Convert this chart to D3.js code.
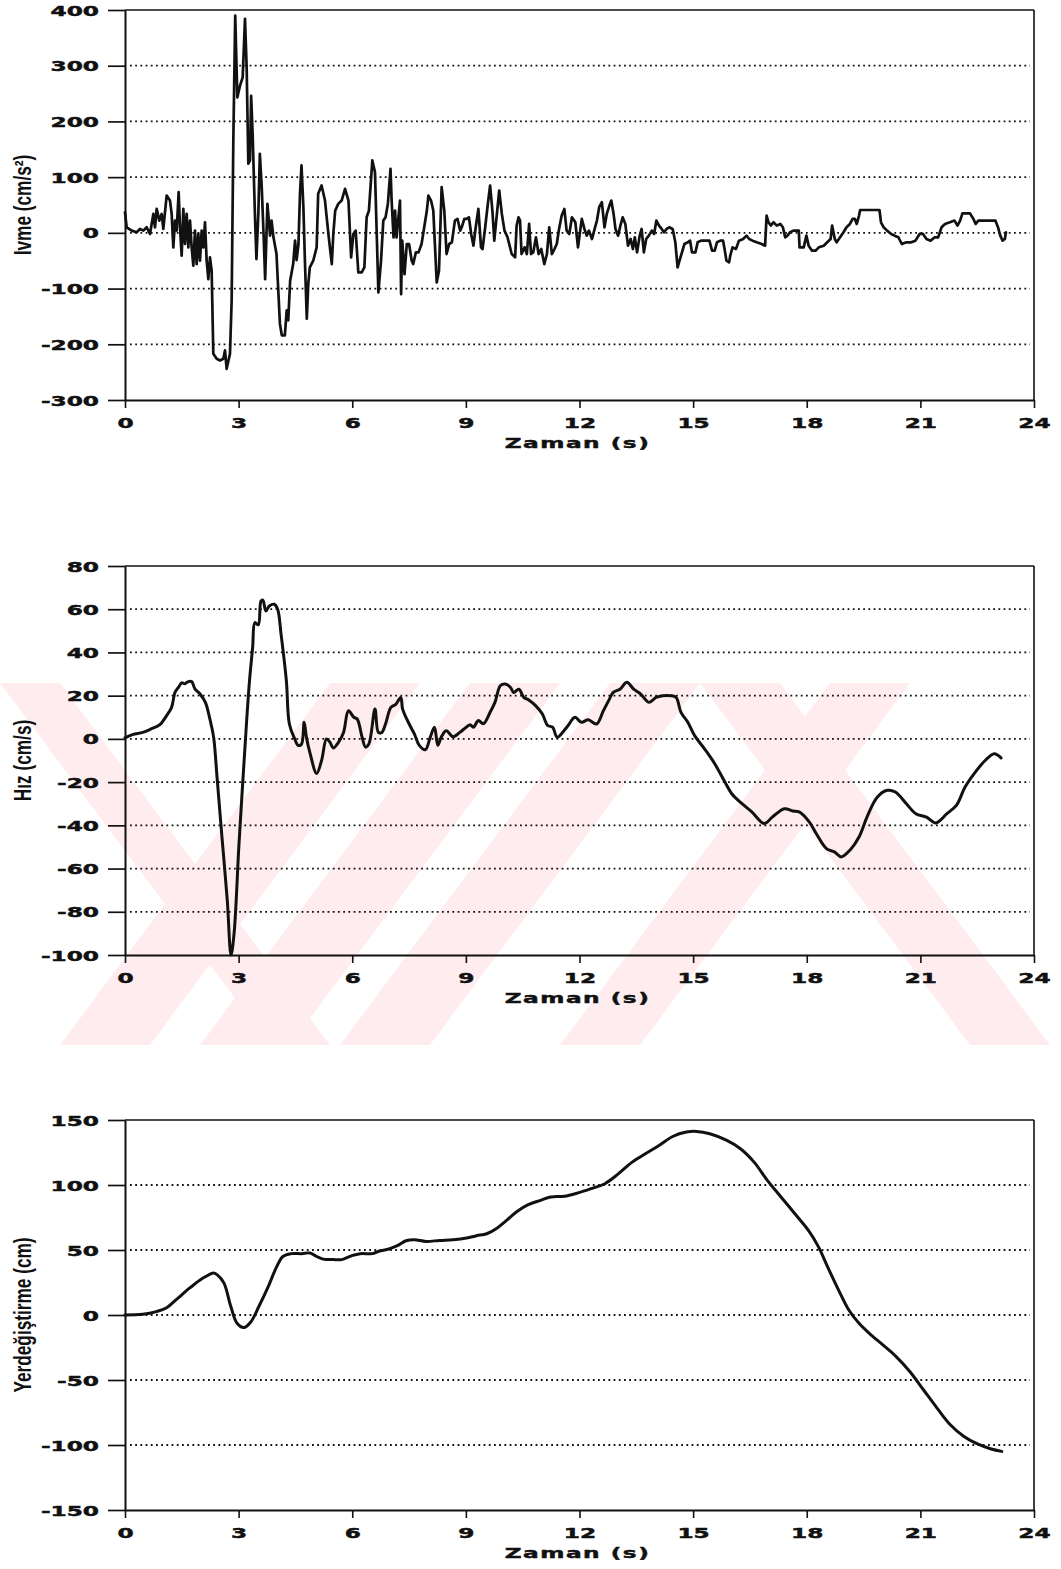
<!DOCTYPE html>
<html>
<head>
<meta charset="utf-8">
<script src="https://cdn.jsdelivr.net/npm/d3@7"></script>
<style>
  body { margin: 0; background: #fff; }
  svg { display: block; }
</style>
</head>
<body>
<svg id="fig" width="1061" height="1569"></svg>
<script>
// ---- tick values ----
const timeTicks  = [0, 3, 6, 9, 12, 15, 18, 21, 24];
const accelTicks = [-300, -200, -100, 0, 100, 200, 300, 400];
const velTicks   = [-100, -80, -60, -40, -20, 0, 20, 40, 60, 80];
const dispTicks  = [-150, -100, -50, 0, 50, 100, 150];

// ---- acceleration record (cm/s²) ----
const accelTime = [
  0, 0.044, 0.176, 0.308, 0.396, 0.484, 0.572, 0.66, 0.748, 0.792, 0.836, 0.906, 0.968, 1.012, 1.1, 1.188,
  1.232, 1.276, 1.32, 1.364, 1.417, 1.452, 1.496, 1.54, 1.584, 1.628, 1.672, 1.716, 1.76, 1.804, 1.848, 1.892,
  1.936, 1.98, 2.024, 2.068, 2.112, 2.156, 2.2, 2.244, 2.288, 2.332, 2.42, 2.508, 2.596, 2.64, 2.684, 2.772,
  2.816, 2.86, 2.91, 2.966, 3.036, 3.107, 3.168, 3.212, 3.256, 3.3, 3.33, 3.37, 3.43, 3.47, 3.52, 3.56, 3.61,
  3.66, 3.7, 3.76, 3.83, 3.87, 3.92, 4.0, 4.09, 4.14, 4.22, 4.27, 4.31, 4.36, 4.44, 4.49, 4.53, 4.58, 4.62,
  4.66, 4.71, 4.75, 4.8, 4.84, 4.88, 4.97, 5.06, 5.1, 5.19, 5.28, 5.37, 5.46, 5.5, 5.55, 5.63, 5.72,
  5.81, 5.9, 5.97, 6.03, 6.09, 6.16, 6.25, 6.32, 6.38, 6.44, 6.53, 6.6, 6.69, 6.76, 6.82, 6.88, 6.94, 7.01,
  7.04, 7.09, 7.13, 7.17, 7.22, 7.26, 7.29, 7.32, 7.38, 7.44, 7.5, 7.57, 7.61, 7.68, 7.75, 7.83, 7.9, 7.97,
  8.01, 8.08, 8.14, 8.23, 8.29, 8.36, 8.43, 8.49, 8.56, 8.63, 8.71, 8.78, 8.85, 8.89, 8.96, 9.02, 9.08, 9.14,
  9.2, 9.26, 9.33, 9.4, 9.44, 9.51, 9.58, 9.64, 9.7, 9.75, 9.81, 9.88, 9.95, 10.02, 10.1, 10.21, 10.3, 10.34,
  10.39, 10.43, 10.47, 10.55, 10.61, 10.67, 10.72, 10.78, 10.85, 10.92, 10.99, 11.07, 11.14, 11.2, 11.27,
  11.34, 11.4, 11.46, 11.53, 11.6, 11.66, 11.73, 11.8, 11.89, 11.96,
  12.06, 12.13, 12.19, 12.25, 12.33, 12.4, 12.46, 12.52, 12.59, 12.66, 12.72, 12.79, 12.84, 12.9, 12.95,
  13.02, 13.08, 13.14, 13.21, 13.28, 13.35, 13.41, 13.46, 13.52, 13.59, 13.64, 13.7, 13.76, 13.83, 13.91,
  13.97, 14.03, 14.1, 14.17, 14.23, 14.3, 14.37, 14.46, 14.53, 14.59, 14.68, 14.77, 14.86, 14.92, 14.97,
  15.06, 15.12, 15.21, 15.34, 15.43, 15.5, 15.57, 15.63, 15.72, 15.79, 15.83, 15.88, 15.95, 15.98, 16.04,
  16.13, 16.21, 16.32, 16.41, 16.48, 16.57, 16.68, 16.81, 16.9, 16.94, 16.99, 17.05, 17.12, 17.21, 17.3,
  17.37, 17.43, 17.49, 17.56, 17.65, 17.79, 17.81, 17.92, 17.99, 18.05, 18.14, 18.23, 18.32, 18.45, 18.54,
  18.63, 18.67, 18.74, 18.79, 18.88, 18.97, 19.05, 19.14, 19.21, 19.27, 19.32, 19.38, 19.41, 19.61, 19.83,
  19.92, 19.96, 20.03, 20.12, 20.23, 20.32, 20.42, 20.51, 20.63, 20.76, 20.87, 20.98, 21.07, 21.16, 21.27,
  21.38, 21.47, 21.56, 21.65, 21.78, 21.9, 21.98, 22.05, 22.11, 22.31, 22.4, 22.46, 22.53, 22.71, 22.98,
  23.05, 23.11, 23.17, 23.23, 23.26
];
const accel = [
  37, 10, 4, 1, 7, 4, 10, -2, 34, 10, 43, 22, 34, 7, 67, 58,
  34, -26, 22, 4, 73, 10, -41, 43, -20, 34, -26, 22, -26, -59, 4, -56,
  -2, -50, 4, -26, 19, -50, -83, -44, -68, -217, -226, -229, -226, -211, -244, -217,
  -121, 166, 390, 243, 264, 279, 384, 297, 124, 130, 246, 178, 34, -47, 34, 142, 82,
  -5, -83, 52, -5, 22, -8, -38, -163, -184, -184, -139, -157, -86, -56, -14, -49, -20, 70,
  121, 46, -50, -154, -91, -62, -50, -26, 70, 85, 58, -2, -56, -2, 40, 52, 58,
  79, 58, -44, -2, 4, -71, -71, -62, 28, 40, 130, 109, -107, -50, 22, 28, 52, 115,
  58, -8, 40, -8, 28, 58, -110, -14, -74, -20, -20, -50, -56, -35, -35, -20, 10, 40,
  67, 58, 40, -89, -68, 82, 40, -38, -20, -17, 22, 25, 4, 10, 25, 25, 28, -2,
  -23, 10, 43, -26, -29, 10, 52, 85, 40, -14, 28, 76, 34, 4, -8, -38, -44, 13,
  28, 22, -38, -26, -38, 16, -38, -35, -8, -38, -29, -56, -38, 10, -38,
  -29, -20, 7, 31, 43, 4, -2, 28, 19, -26,
  25, 7, -5, 4, -11, 7, 22, 46, 55, 10, 34, 49, 58, 34, 7,
  -5, 13, 28, 16, -23, -11, -29, -8, -35, -5, 7, -35, -11, -5, 4,
  -2, 22, 13, 7, 1, 7, 10, 7, -17, -62, -41, -20, -17, -14, -35,
  -35, -17, -14, -14, -14, -32, -32, -17, -14, -14, -29, -50, -53, -41, -26,
  -29, -14, -11, -5, -11, -14, -17, -20, -23, 31, 19, 13, 19, 13, 16,
  10, -8, -5, 1, 4, 4, -26, -26, -5, -23, -32, -32, -26, -23, -17,
  -11, 13, -11, -17, -8, 1, 10, 16, 25, 25, 16, 31, 41, 41, 41,
  41, 19, 10, 4, -2, -5, -8, -20, -17, -17, -14, -2, -2, -11, -14,
  -8, -8, 10, 16, 19, 22, 13, 22, 35, 35, 25, 16, 22, 22, 22,
  10, -5, -14, -11, 1
];

// ---- velocity (cm/s) ----
const velTime = [
  0, 0.2, 0.47, 0.69, 0.92, 1.1, 1.23, 1.32, 1.41, 1.5, 1.58, 1.67, 1.76, 1.85, 1.98, 2.12, 2.25, 2.34,
  2.43, 2.56, 2.7, 2.8, 2.88, 3.01, 3.14, 3.28, 3.37, 3.43, 3.52, 3.59, 3.64, 3.72, 3.81, 3.94, 4.03, 4.12,
  4.26, 4.34, 4.48, 4.57, 4.66, 4.73, 4.79, 4.88, 5.06, 5.19, 5.32, 5.41, 5.5, 5.64, 5.77, 5.9, 6.04, 6.13,
  6.26, 6.35, 6.44, 6.6, 6.69, 6.78, 6.88, 7.02, 7.15, 7.28, 7.33, 7.5, 7.64, 7.77, 7.93, 8.06, 8.17, 8.26,
  8.35, 8.48, 8.66, 8.84, 8.98, 9.11, 9.2, 9.33, 9.46, 9.64, 9.77, 9.91, 10.04, 10.18, 10.26, 10.4, 10.53,
  10.66, 10.84, 11.02, 11.16, 11.29, 11.41, 11.59, 11.7, 11.88, 12.05, 12.23, 12.45, 12.63, 12.77, 12.89,
  13.07, 13.25, 13.43, 13.61, 13.84, 14.02, 14.2, 14.41, 14.55, 14.68, 14.86, 15.04, 15.3, 15.57, 15.84,
  16.02, 16.29, 16.55, 16.88, 17.09, 17.41, 17.63, 17.8, 18.07, 18.25, 18.52, 18.73, 18.91, 19.14, 19.38,
  19.59, 19.86, 20.13, 20.34, 20.63, 20.88, 21.16, 21.41, 21.7, 21.95, 22.18, 22.45, 22.71, 22.95, 23.13
];
const vel = [
  0.5, 2, 3, 4.6, 6.6, 10.8, 14.6, 21.5, 23.8, 26, 25.5, 26.5, 26.5, 23, 20.8, 17, 8.5, 0.8,
  -17.7, -45.4, -74.6, -100, -90, -48.5, -11.5, 25.4, 42.3, 53.8, 52.8, 63.8, 64.2, 59.2, 61.5, 62.3, 60, 48.5,
  27, 6.9, 0, -3, -2.5, 7.7, 0.8, -6.2, -16, -10, 0, -1.5, -4.2, -1.5, 3, 13, 10, 9.2,
  0.8, -3.8, -2.3, 13.8, 3, 3, 7, 14.6, 16, 19.2, 13.8, 7, 2.3, -3, -5, 0.8, 5.4, -3,
  0.8, 3.8, 1, 3, 5, 6.6, 5.4, 8.5, 7, 12.3, 17, 24.6, 25.4, 23.8, 21.5, 23, 19.2,
  18, 15.4, 11.5, 6.2, 5.4, 0.8, 3.8, 6.2, 10, 7.7, 8.8, 6.9, 13, 17.7, 21.5,
  23, 26.2, 23, 20.8, 16.9, 19.2, 20, 20, 19.2, 12.3, 7.7, 1.5, -4.6, -11.5, -20,
  -25.4, -30, -33.8, -39.2, -36.2, -32.3, -33.4, -33.8, -38.5, -43.8, -50.8, -52.3, -54.6, -51.5, -45.4,
  -36.2, -27, -23.8, -24.6, -30, -34.6, -36.2, -38.9, -34.6, -30.8, -22.3, -15.4, -10, -6.9, -8.8
];

// ---- displacement (cm) ----
const dispTime = [
  0, 0.47, 0.83, 1.1, 1.36, 1.72, 2.07, 2.34, 2.43, 2.61, 2.79, 2.96, 3.14, 3.32, 3.54, 3.77, 3.99, 4.17,
  4.39, 4.66, 4.88, 5.06, 5.23, 5.5, 5.72, 5.99, 6.21, 6.53, 6.7, 6.97, 7.19, 7.42, 7.64, 7.95, 8.31, 8.66,
  9.02, 9.28, 9.55, 9.82, 10.09, 10.35, 10.62, 10.97, 11.24, 11.6, 11.96, 12.31, 12.67, 13.03, 13.39, 13.74,
  14.1, 14.46, 14.82, 15.09, 15.44, 15.89, 16.25, 16.61, 16.96, 17.32, 17.72, 18.04, 18.31, 18.57, 18.84,
  19.11, 19.38, 19.65, 20.01, 20.36, 20.72, 21.08, 21.44, 21.79, 22.15, 22.51, 22.87, 23.15
];
const disp = [
  0, 0.5, 2.6, 5.6, 12, 21, 28.6, 32.4, 31, 24.7, 6.9, -6.4, -9.7, -5.4, 6.9, 21, 36.2, 45,
  47.2, 47.2, 47.7, 45, 43, 42.6, 42.6, 45.7, 47.2, 47.2, 49, 50.8, 53.3, 57.1, 57.9, 56.6, 57.4, 57.9,
  59.2, 61, 62.5, 66.8, 73.2, 79.6, 84.5, 88.2, 90.8, 91.3, 93.9, 97.2, 101, 108.7, 117.6, 124,
  130.4, 137.3, 140.7, 141.2, 139.4, 134.3, 127.9, 117.6, 103.6, 90.8, 76.7, 65.2, 52.4, 35.8, 19.2,
  3.8, -6.4, -14.1, -23, -32, -43.5, -57.5, -71.6, -84.4, -93.4, -99.2, -103.1, -104.9
];

// ---- layout ----
const W = 1061, H = 1569;
const left = 125, right = 1034;
const SX = 1.66;                 // horizontal stretch of the wide tick lettering
const tickFont = "'DejaVu Sans', sans-serif";
const titleFont = "'Liberation Sans', Arial, sans-serif";
const ink = "#111";

const svg = d3.select("#fig");
svg.append("rect").attr("width", W).attr("height", H).attr("fill", "#fff");

// faint diagonal background pattern behind the velocity panel
const wm = svg.append("g").attr("fill", "#feecef");
const wTop = 683, wBot = 1045, shift = 270;
const back = [[0, 60], [700, 780]];                            // "\" bands: top x-range
const fwd  = [[330, 420], [470, 560], [610, 700], [830, 910]];  // "/" bands: top x-range
back.forEach(([a, b]) => wm.append("polygon")
  .attr("points", [[a, wTop], [b, wTop], [b + shift, wBot], [a + shift, wBot]].join(" ")));
fwd.forEach(([a, b]) => wm.append("polygon")
  .attr("points", [[a, wTop], [b, wTop], [b - shift, wBot], [a - shift, wBot]].join(" ")));

const x = d3.scaleLinear().domain([0, 24]).range([left, right]);

function styleWide(sel) {
  sel.attr("fill", ink)
    .attr("stroke", ink).attr("stroke-width", 0.45)
    .style("font-family", tickFont).style("font-weight", "bold").style("font-size", "14px");
}

function drawPanel(p) {
  const y = d3.scaleLinear().domain([p.ticks[0], p.ticks[p.ticks.length - 1]]).range([p.bottom, p.top]);
  const g = svg.append("g");

  // dotted horizontal grid
  g.append("g").selectAll("line")
    .data(p.ticks.slice(1, -1))
    .join("line")
    .attr("x1", left + 5).attr("x2", right - 4)
    .attr("y1", d => y(d)).attr("y2", d => y(d))
    .attr("stroke", ink).attr("stroke-width", 1.8)
    .attr("stroke-dasharray", "1.8 3.4");

  // frame: top and right edges
  g.append("line").attr("x1", left).attr("x2", right).attr("y1", p.top).attr("y2", p.top)
    .attr("stroke", ink).attr("stroke-width", 1.3);
  g.append("line").attr("x1", right).attr("x2", right).attr("y1", p.top).attr("y2", p.bottom)
    .attr("stroke", ink).attr("stroke-width", 1.6);

  // y axis
  const ya = g.append("g").attr("transform", `translate(${left},0)`)
    .call(d3.axisLeft(y).tickValues(p.ticks).tickSize(17).tickSizeOuter(0).tickFormat(d => String(d)));
  ya.select(".domain").attr("stroke", ink).attr("stroke-width", 2);
  ya.selectAll(".tick line").attr("stroke", ink).attr("stroke-width", 1.7);
  ya.selectAll(".tick text")
    .attr("x", -26 / SX).attr("dy", "0.36em")
    .attr("transform", `scale(${SX},1)`)
    .call(styleWide);

  // x axis
  const xa = g.append("g").attr("transform", `translate(0,${p.bottom})`)
    .call(d3.axisBottom(x).tickValues(timeTicks).tickSize(8).tickSizeOuter(0).tickFormat(d => String(d)));
  xa.select(".domain").attr("stroke", ink).attr("stroke-width", 2);
  xa.selectAll(".tick line").attr("stroke", ink).attr("stroke-width", 1.6);
  xa.selectAll(".tick text")
    .attr("y", 28).attr("dy", 0)
    .attr("transform", `scale(${SX},1)`)
    .call(styleWide);

  // x title
  g.append("g").attr("transform", `translate(${(left + right) / 2 - 2},${p.bottom + 48})`)
    .append("text")
    .attr("text-anchor", "middle")
    .attr("transform", `scale(${SX},1)`)
    .style("letter-spacing", "0.9px")
    .call(styleWide)
    .text("Zaman (s)");

  // y title (narrow bold, rotated)
  g.append("g").attr("transform", `translate(31,${(p.top + p.bottom) / 2}) rotate(-90)`)
    .append("text")
    .attr("text-anchor", "middle")
    .attr("transform", "scale(0.75,1)")
    .style("font-family", titleFont).style("font-weight", "bold").style("font-size", "23px")
    .attr("fill", ink)
    .text(p.title);

  // data trace
  const pts = p.time.map((t, i) => [t, p.values[i]]);
  g.append("path")
    .datum(pts)
    .attr("fill", "none")
    .attr("stroke", ink)
    .attr("stroke-width", p.width)
    .attr("stroke-linejoin", "round")
    .attr("stroke-linecap", "round")
    .attr("d", d3.line().x(d => x(d[0])).y(d => y(d[1])).curve(p.curve));
}

drawPanel({ top: 10,   bottom: 400,  ticks: accelTicks, title: "Ivme (cm/s²)", width: 2.7,
            time: accelTime, values: accel, curve: d3.curveLinear });
drawPanel({ top: 566,  bottom: 955,  ticks: velTicks,   title: "Hız (cm/s)", width: 3,
            time: velTime, values: vel, curve: d3.curveCatmullRom.alpha(0.5) });
drawPanel({ top: 1120, bottom: 1510, ticks: dispTicks,  title: "Yerdeğiştirme (cm)", width: 3,
            time: dispTime, values: disp, curve: d3.curveCatmullRom.alpha(0.5) });
</script>
</body>
</html>
